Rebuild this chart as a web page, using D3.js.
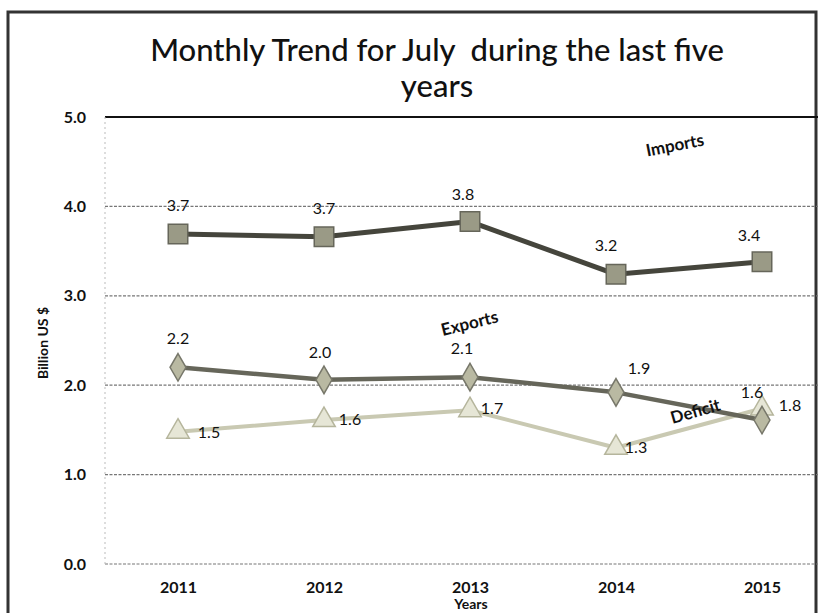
<!DOCTYPE html>
<html><head><meta charset="utf-8">
<script src="https://cdn.jsdelivr.net/npm/d3@7"></script>
<style>body{margin:0;background:#fff}svg{display:block}text{font-family:Lato,"Open Sans",sans-serif}</style>
</head><body><svg id="c" width="820" height="613"></svg>
<script>
const years = ["2011","2012","2013","2014","2015"];
const imports = [3.69, 3.66, 3.83, 3.24, 3.38];
const importsLabels = ["3.7","3.7","3.8","3.2","3.4"];
const exportsV = [2.20, 2.06, 2.09, 1.92, 1.61];
const exportsLabels = ["2.2","2.0","2.1","1.9","1.6"];
const deficit = [1.48, 1.61, 1.72, 1.30, 1.74];
const deficitLabels = ["1.5","1.6","1.7","1.3","1.8"];
const yTicks = [0,1,2,3,4,5];

const svg = d3.select("#c");
svg.append("rect").attr("x",8).attr("y",12).attr("width",808).attr("height",620)
  .attr("fill","none").attr("stroke","#333").attr("stroke-width",3);

const x = d3.scalePoint().domain(years).range([105,835]).padding(0.5);
const y = d3.scaleLinear().domain([0,5]).range([564,117]);

svg.append("g").selectAll("line").data(yTicks).join("line")
  .attr("x1",105).attr("x2",818).attr("y1",d=>y(d)).attr("y2",d=>y(d))
  .attr("stroke",d=>d===5?"#111":"#777").attr("stroke-width",d=>d===5?2:1.2)
  .attr("stroke-dasharray",d=>d===5?null:"3,1.5");
svg.append("line").attr("x1",105).attr("x2",105).attr("y1",117).attr("y2",564)
  .attr("stroke","#bbb").attr("stroke-dasharray","2,3");

const yAxis = d3.axisLeft(y).tickValues(yTicks).tickFormat(d3.format(".1f")).tickSize(0).tickPadding(0);
const ga = svg.append("g").attr("transform","translate(86,0)").call(yAxis);
ga.select(".domain").remove();
ga.attr("font-size",16).attr("font-family","Lato");
ga.selectAll("text").attr("font-weight","bold").attr("fill","#111");

const xAxis = d3.axisBottom(x).tickSize(0).tickPadding(0);
const gx = svg.append("g").attr("transform","translate(0,582)").call(xAxis);
gx.select(".domain").remove();
gx.attr("font-size",16).attr("font-family","Lato");
gx.selectAll("text").attr("font-weight","bold").attr("fill","#111");

svg.append("text").attr("x",471).attr("y",609).attr("text-anchor","middle")
  .attr("font-size",14).attr("font-weight","bold").attr("fill","#111").text("Years");
svg.append("text").attr("transform","translate(48,343) rotate(-90)").attr("text-anchor","middle")
  .attr("font-size",14).attr("font-weight","bold").attr("fill","#111").text("Billion US $");

svg.append("text").attr("x",437).attr("y",61).attr("text-anchor","middle").style("white-space","pre")
  .attr("font-size",31).attr("font-weight",500).attr("fill","#111").text("Monthly Trend for July  during the last five");
svg.append("text").attr("x",437).attr("y",97).attr("text-anchor","middle")
  .attr("font-size",31).attr("font-weight",500).attr("fill","#111").text("years");

const line = d3.line().x((d,i)=>x(years[i])).y(d=>y(d));

function series(vals, color, width, sym, size, fill, stroke){
  svg.append("path").datum(vals).attr("d",line).attr("fill","none")
    .attr("stroke",color).attr("stroke-width",width).attr("stroke-linejoin","round");
  svg.append("g").selectAll("path").data(vals).join("path")
    .attr("transform",(d,i)=>`translate(${x(years[i])},${y(d)})`)
    .attr("d",d3.symbol().type(sym).size(size))
    .attr("fill",fill).attr("stroke",stroke).attr("stroke-width",1.5);
}
series(deficit,"#c9c9b2",4,d3.symbolTriangle,220,"#e6e6d6","#b5b59c");
series(exportsV,"#66665a",4.5,d3.symbolDiamond,220,"#b9b9a2","#77776a");
series(imports,"#45453c",5,d3.symbolSquare,380,"#9a9a86","#66665a");

function labels(vals, texts, dx, dy){
  svg.append("g").selectAll("text").data(vals).join("text")
    .attr("x",(d,i)=>x(years[i])+dx[i]).attr("y",(d,i)=>y(d)+dy[i])
    .attr("text-anchor","middle").attr("font-size",16).attr("fill","#111")
    .text((d,i)=>texts[i]);
}
labels(imports, importsLabels, [0,0,-7,-10,-13], [-23,-23,-22,-23,-21]);
labels(exportsV, exportsLabels, [0,-4,-8,23,-10], [-23,-22,-23,-18,-22]);
labels(deficit, deficitLabels, [31,26,22,20,28], [6,5,4,5,3]);

function nameLabel(t, cx, cy, rot){
  svg.append("text").attr("transform",`translate(${cx},${cy}) rotate(${rot})`)
    .attr("text-anchor","middle").attr("font-size",17).attr("font-weight","bold").attr("fill","#111").text(t);
}
nameLabel("Imports",676,151,-11);
nameLabel("Exports",471,329,-14);
nameLabel("Deficit",697,417,-16);
</script></body></html>
